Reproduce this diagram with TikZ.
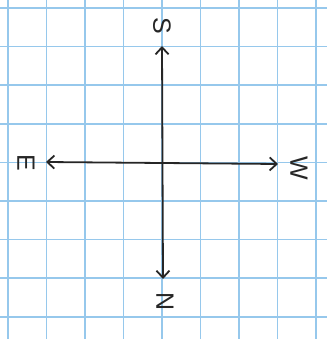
\documentclass[tikz,border=0pt]{standalone}
\usepackage{fontspec}
\setmainfont{Liberation Sans}
\usetikzlibrary{arrows.meta}
\definecolor{gridblue}{RGB}{150,200,236}
\tikzset{
  gridline/.style={draw=gridblue, line width=1.5pt},
  axis/.style={draw=black!85, line width=1.8pt, {Straight Barb[length=7pt,width=13pt,line width=1.8pt]}-{Straight Barb[length=7pt,width=13pt,line width=1.8pt]}},
  lbl/.style={font=\fontsize{25}{25}\selectfont, inner sep=0pt, rotate=-90, text=black!85}
}
\begin{document}
\begin{tikzpicture}[x=1pt,y=-1pt]
\useasboundingbox (0,0) rectangle (327,339);
\fill[white] (0,0) rectangle (327,339);
\foreach \i in {0,...,8} {
  \draw[gridline] ({8+38.5*\i},0) -- ({8+38.5*\i},339);
  \draw[gridline] (0,{8+38.6*\i}) -- (327,{8+38.6*\i});
}
\coordinate (top) at (162,46);
\coordinate (bot) at (163,279);
\coordinate (left) at (46,162);
\coordinate (right) at (278,164);
\draw[axis] (bot) -- (top);
\draw[axis] (left) -- (right);
\node[lbl] (S) at (162,26) {S};
\node[lbl] (E) at (26,163) {E};
\node[lbl] (W) at (299,168) {W};
\node[lbl] (N) at (165,302) {N};
\end{tikzpicture}
\end{document}
